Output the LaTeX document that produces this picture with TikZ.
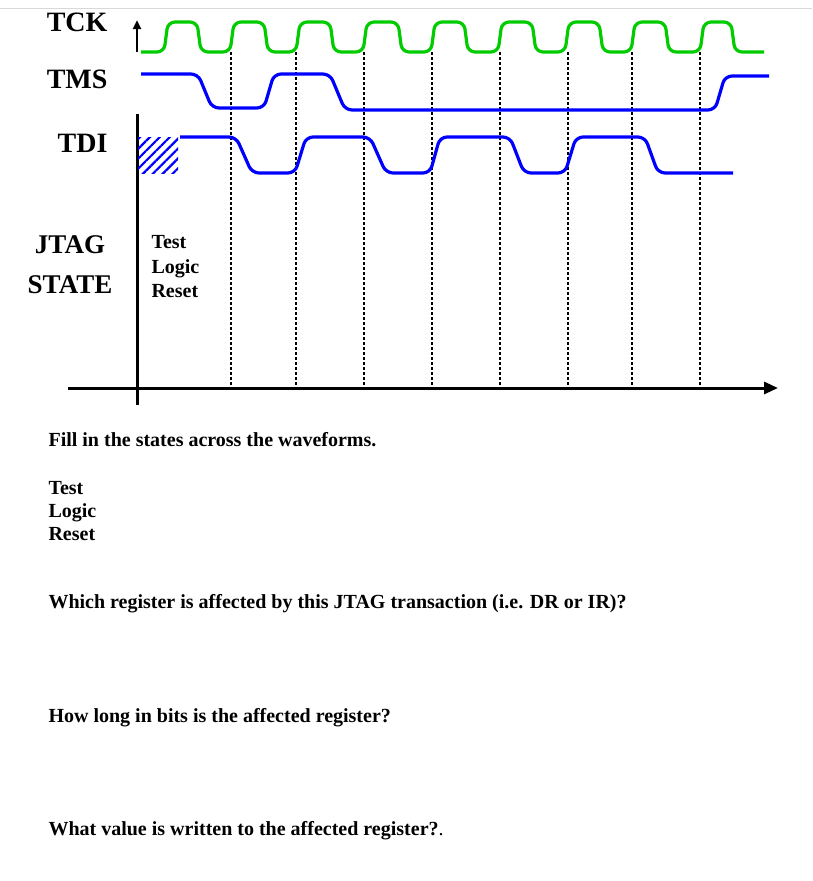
\documentclass[tikz,border=0pt]{standalone}
\usepackage{fontspec}
\setmainfont{Liberation Serif}
\usetikzlibrary{patterns.meta,arrows.meta}
\begin{document}
\begin{tikzpicture}[x=1pt,y=-1pt,
  wave/.style={line width=3.2pt,rounded corners=7pt},
  tck/.style={wave,draw={rgb,255:red,0;green,204;blue,0}},
  sig/.style={wave,draw=blue},
  lbl/.style={font=\bfseries\fontsize{28}{30}\selectfont,anchor=east},
  txt/.style={font=\bfseries\fontsize{20}{24}\selectfont,anchor=west,align=left},
  dot/.style={line width=2pt,dash pattern=on 2.5pt off 2.5pt}]
\useasboundingbox[fill=white] (0,0) rectangle (812,881);
\draw[gray!30,line width=1pt] (0,8) -- (812,8);
% axes
\draw[line width=2.5pt,-{Triangle[length=9pt,width=8pt]}] (137,52) -- (137,20);
\draw[line width=3pt] (137,114) -- (137,405);
\draw[line width=3pt,-{Triangle[length=14pt,width=12pt]}] (68,388) -- (778,388);
% dotted lines
\foreach \x in {231,296,364,432,500,568,632,700}
  \draw[dot] (\x,52) -- (\x,388);
% TCK
\draw[tck] (141,52)
  \foreach \r/\f in {166/199,232/266,298/332,365/400,433/466,500/534,567/601,633/667,702/733}
   { -- (\r-2,52) -- (\r+2,22) -- (\f-2,22) -- (\f+2,52) } -- (764,52);
% TMS
\draw[sig] (141,74) -- (198,74) -- (212,108) -- (264,108) -- (274,74) -- (330,74) -- (345,110) -- (715,110) -- (725,76) -- (769,76);
% TDI
\fill[pattern={Lines[angle=45,distance=7pt,line width=2.2pt]},pattern color=blue] (138,137) rectangle (178,173);
\draw[sig] (180,137) -- (236,137) -- (252,173) -- (295,173) -- (306,137) -- (370,137) -- (386,173) -- (430,173) -- (440,137) -- (510,137) -- (524,173) -- (565,173) -- (576,137) -- (645,137) -- (658,173) -- (733,173);
% labels
\node[lbl] (tck) at (111,22) {TCK};
\node[lbl] (tms) at (111,79) {TMS};
\node[lbl] (tdi) at (111,143) {TDI};
\node[lbl,align=center,font=\bfseries\fontsize{27}{40}\selectfont,anchor=center] (js) at (70,265) {JTAG\\STATE};
\node[txt,font=\bfseries\fontsize{20}{24.5}\selectfont] (tlr) at (148,267) {Test\\Logic\\Reset};
% text
\node[txt] (t1) at (45,440) {Fill in the states across the waveforms.};
\node[txt,font=\bfseries\fontsize{20}{23}\selectfont] (t2) at (45,511) {Test\\Logic\\Reset};
\node[txt] (t3) at (45,604) {Which register is affected by this JTAG transaction (i.e. DR or IR)?};
\node[txt] (t4) at (45,718) {How long in bits is the affected register?};
\node[txt] (t5) at (45,831) {What value is written to the affected register?\textmd{.}};
\end{tikzpicture}
\end{document}
